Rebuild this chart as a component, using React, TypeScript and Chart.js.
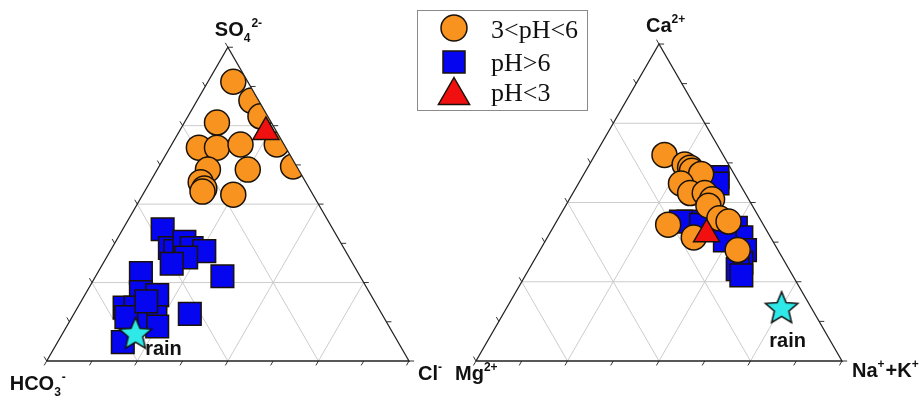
import React, { useEffect, useRef } from "react";
import { Chart, registerables } from "chart.js";

Chart.register(...registerables);

const W = 922;
const H = 396;

// ---------- Anion ternary (%): SO4 (apex), HCO3 (bottom-left), Cl (bottom-right)
const anionMid_SO4 = [89, 83, 78, 69, 62, 76, 68, 68, 69, 61, 61, 57, 55, 54, 53];
const anionMid_HCO3 = [4, 2, 2, 2, 1, 15, 24, 19, 12, 25, 14, 29, 29, 30, 22];
const anionMid_Cl = [7, 15, 20, 29, 37, 9, 8, 13, 19, 14, 25, 14, 16, 16, 25];

const anionHigh_SO4 = [42, 36, 35, 38, 36, 35, 33, 31, 27, 28, 22, 21, 17, 17, 14, 11, 15, 6, 13, 14, 19];
const anionHigh_HCO3 = [47, 48, 47, 43, 42, 39, 45, 50, 38, 60, 63, 59, 70, 67, 63, 64, 53, 76, 69, 71, 63];
const anionHigh_Cl = [11, 16, 18, 19, 22, 26, 22, 19, 35, 12, 15, 20, 13, 16, 23, 25, 32, 18, 18, 15, 18];

const anionLow_SO4 = [73];
const anionLow_HCO3 = [3];
const anionLow_Cl = [24];

const anionRain_SO4 = [9];
const anionRain_HCO3 = [71];
const anionRain_Cl = [20];

// ---------- Cation ternary (%): Ca (apex), Mg (bottom-left), Na+K (bottom-right)
const cationMid_Ca = [65, 62, 61, 60, 59, 56, 53, 53, 51, 49, 45, 44, 43, 39, 35];
const cationMid_Mg = [16, 12, 11, 11, 9, 16, 15, 11, 10, 12, 11, 9, 26, 21, 11];
const cationMid_NaK = [19, 26, 28, 29, 32, 28, 32, 36, 39, 39, 44, 47, 31, 40, 54];

const cationHigh_Ca = [58, 56, 44, 44, 42, 42, 39, 38, 35, 31, 29, 27, 43];
const cationHigh_Mg = [5, 6, 20, 22, 11, 8, 8, 13, 9, 12, 14, 14, 17];
const cationHigh_NaK = [37, 38, 36, 34, 47, 50, 53, 49, 56, 57, 57, 59, 40];

const cationLow_Ca = [40];
const cationLow_Mg = [17];
const cationLow_NaK = [43];

const cationRain_Ca = [17];
const cationRain_Mg = [8];
const cationRain_NaK = [75];

const gridFractions = [0.25, 0.5, 0.75];
const tickFractions = [0, 0.125, 0.25, 0.375, 0.5, 0.625, 0.75, 0.875, 1];

const legendLabels = ["3<pH<6", "pH>6", "pH<3"];
const rainLabel = "rain";

// ---------- geometry (layout, not data)
type Tri = { x0: number; side: number };
const LEFT_TRI: Tri = { x0: 0, side: 1 };
const RIGHT_TRI: Tri = { x0: 1.1849, side: 1.0102 };
const SQ3 = Math.sqrt(3) / 2;
const GAP = { x: null as any, y: null as any };

function tern(top: number, left: number, right: number, tri: Tri) {
  const s = top + left + right;
  const a = top / s;
  const c = right / s;
  return { x: tri.x0 + tri.side * (c + a / 2), y: tri.side * a * SQ3 };
}

function series(top: number[], left: number[], right: number[], tri: Tri) {
  return top.map((t, i) => tern(t, left[i], right[i], tri));
}

function gridData(tri: Tri) {
  const pts: any[] = [];
  for (const k of gridFractions) {
    pts.push(tern(k, 1 - k, 0, tri), tern(k, 0, 1 - k, tri), GAP);
    pts.push(tern(0, 1 - k, k, tri), tern(1 - k, 0, k, tri), GAP);
    pts.push(tern(0, k, 1 - k, tri), tern(1 - k, k, 0, tri), GAP);
  }
  return pts;
}

function frameData(tri: Tri) {
  return [tern(0, 1, 0, tri), tern(0, 0, 1, tri), tern(1, 0, 0, tri), tern(0, 1, 0, tri)];
}

function tickData(tri: Tri) {
  const L = 0.014 * tri.side;
  const pts: any[] = [];
  for (const t of tickFractions) {
    const b = tern(0, 1 - t, t, tri);
    pts.push(b, { x: b.x - 0.5 * L, y: b.y - SQ3 * L }, GAP);
    const r = tern(t, 0, 1 - t, tri);
    pts.push(r, { x: r.x + L, y: r.y }, GAP);
    const l = tern(t, 1 - t, 0, tri);
    pts.push(l, { x: l.x - 0.5 * L, y: l.y + SQ3 * L }, GAP);
  }
  return pts;
}

function makeStar(R: number) {
  const size = Math.ceil(2 * R + 4);
  const c = document.createElement("canvas");
  c.width = size;
  c.height = size;
  const g = c.getContext("2d")!;
  const cx = size / 2;
  const cy = size / 2 + 0.095 * R;
  g.beginPath();
  for (let i = 0; i < 10; i++) {
    const r = i % 2 === 0 ? R : R * 0.45;
    const ang = -Math.PI / 2 + (i * Math.PI) / 5;
    g.lineTo(cx + r * Math.cos(ang), cy + r * Math.sin(ang));
  }
  g.closePath();
  g.fillStyle = "#2fe8e8";
  g.fill();
  g.lineWidth = 1.5;
  g.strokeStyle = "#111";
  g.stroke();
  return c;
}

const ORANGE = "#f7931e";
const BLUE = "#0505f0";
const RED = "#f01010";
const EDGE = "#1a1208";

type Part = { t: string; k: "n" | "sup" | "sub" };
function chem(ctx: CanvasRenderingContext2D, x: number, y: number, parts: Part[]) {
  let cx = x;
  for (const p of parts) {
    const size = p.k === "n" ? 20 : 12;
    ctx.font = `bold ${size}px "Liberation Sans", Arial, sans-serif`;
    const dy = p.k === "sup" ? -9 : p.k === "sub" ? 6 : 0;
    ctx.fillText(p.t, cx, y + dy);
    cx += ctx.measureText(p.t).width + (p.k === "n" ? 0 : 1);
  }
}

export default function App() {
  const ref = useRef<HTMLCanvasElement>(null);

  useEffect(() => {
    const star = makeStar(17);

    const markerDs = (data: any[], style: any, radius: number, bg: string, tri: Tri) => ({
      data,
      pointStyle: style,
      pointRadius: radius,
      pointHoverRadius: radius,
      pointBackgroundColor: bg,
      pointBorderColor: EDGE,
      pointBorderWidth: 1.5,
      showLine: false,
      clipTri: tri,
    });
    const lineDs = (data: any[], color: string, width: number) => ({
      data,
      showLine: true,
      pointRadius: 0,
      borderColor: color,
      borderWidth: width,
      fill: false,
      tension: 0,
      spanGaps: false,
    });

    const datasets: any[] = [
      lineDs(frameData(LEFT_TRI), "#222", 1.3),
      lineDs(frameData(RIGHT_TRI), "#222", 1.3),
      lineDs(tickData(LEFT_TRI), "#333", 1),
      lineDs(tickData(RIGHT_TRI), "#333", 1),
      markerDs(series(cationRain_Ca, cationRain_Mg, cationRain_NaK, RIGHT_TRI), star, 17, "#2fe8e8", RIGHT_TRI),
      markerDs(series(anionRain_SO4, anionRain_HCO3, anionRain_Cl, LEFT_TRI), star, 17, "#2fe8e8", LEFT_TRI),
      markerDs(series(cationLow_Ca, cationLow_Mg, cationLow_NaK, RIGHT_TRI), "triangle", 15, RED, RIGHT_TRI),
      markerDs(series(cationMid_Ca, cationMid_Mg, cationMid_NaK, RIGHT_TRI), "circle", 12.5, ORANGE, RIGHT_TRI),
      markerDs(series(cationHigh_Ca, cationHigh_Mg, cationHigh_NaK, RIGHT_TRI), "rect", 16, BLUE, RIGHT_TRI),
      markerDs(series(anionLow_SO4, anionLow_HCO3, anionLow_Cl, LEFT_TRI), "triangle", 15, RED, LEFT_TRI),
      markerDs(series(anionMid_SO4, anionMid_HCO3, anionMid_Cl, LEFT_TRI), "circle", 12.5, ORANGE, LEFT_TRI),
      markerDs(series(anionHigh_SO4, anionHigh_HCO3, anionHigh_Cl, LEFT_TRI), "rect", 16, BLUE, LEFT_TRI),
      lineDs(gridData(LEFT_TRI), "#cccccc", 1),
      lineDs(gridData(RIGHT_TRI), "#cccccc", 1),
    ];
    datasets.forEach((d, i) => (d.order = i));

    const px = (chart: any, p: { x: number; y: number }) => [
      chart.scales.x.getPixelForValue(p.x),
      chart.scales.y.getPixelForValue(p.y),
    ];

    const clipPlugin = {
      id: "triClip",
      beforeDatasetDraw(chart: any, args: any) {
        const d = chart.data.datasets[args.index];
        if (!d.clipTri) return;
        const t = d.clipTri as Tri;
        const ctx = chart.ctx as CanvasRenderingContext2D;
        const pts = [tern(0, 1, 0, t), tern(0, 0, 1, t), tern(1, 0, 0, t)].map((q) => px(chart, q));
        ctx.save();
        ctx.beginPath();
        ctx.moveTo(pts[0][0], pts[0][1]);
        ctx.lineTo(pts[1][0], pts[1][1]);
        ctx.lineTo(pts[2][0], pts[2][1]);
        ctx.closePath();
        ctx.clip();
      },
      afterDatasetDraw(chart: any, args: any) {
        const d = chart.data.datasets[args.index];
        if (d.clipTri) chart.ctx.restore();
      },
    };

    const textPlugin = {
      id: "labels",
      afterDraw(chart: any) {
        const ctx = chart.ctx as CanvasRenderingContext2D;
        ctx.save();
        ctx.fillStyle = "#111";
        ctx.textBaseline = "alphabetic";
        ctx.textAlign = "left";
        const lA = px(chart, tern(1, 0, 0, LEFT_TRI));
        const lL = px(chart, tern(0, 1, 0, LEFT_TRI));
        const lR = px(chart, tern(0, 0, 1, LEFT_TRI));
        const rA = px(chart, tern(1, 0, 0, RIGHT_TRI));
        const rL = px(chart, tern(0, 1, 0, RIGHT_TRI));
        const rR = px(chart, tern(0, 0, 1, RIGHT_TRI));
        chem(ctx, lA[0] - 13, lA[1] - 11, [
          { t: "SO", k: "n" },
          { t: "4", k: "sub" },
          { t: "2-", k: "sup" },
        ]);
        chem(ctx, lL[0] - 37, lL[1] + 29, [
          { t: "HCO", k: "n" },
          { t: "3", k: "sub" },
          { t: "-", k: "sup" },
        ]);
        chem(ctx, lR[0] + 9, lR[1] + 19, [
          { t: "Cl", k: "n" },
          { t: "-", k: "sup" },
        ]);
        chem(ctx, rA[0] - 13, rA[1] - 12, [
          { t: "Ca", k: "n" },
          { t: "2+", k: "sup" },
        ]);
        chem(ctx, rL[0] - 21, rL[1] + 19, [
          { t: "Mg", k: "n" },
          { t: "2+", k: "sup" },
        ]);
        chem(ctx, rR[0] + 10, rR[1] + 16, [
          { t: "Na", k: "n" },
          { t: "+", k: "sup" },
          { t: "+K", k: "n" },
          { t: "+", k: "sup" },
        ]);

        ctx.font = 'bold 20px "Liberation Sans", Arial, sans-serif';
        ctx.textAlign = "center";
        const sL = px(chart, tern(anionRain_SO4[0], anionRain_HCO3[0], anionRain_Cl[0], LEFT_TRI));
        ctx.fillText(rainLabel, sL[0] + 28, sL[1] + 22);
        const sR = px(chart, tern(cationRain_Ca[0], cationRain_Mg[0], cationRain_NaK[0], RIGHT_TRI));
        ctx.fillText(rainLabel, sR[0] + 6, sR[1] + 40);

        const bx = 417, by = 10, bw = 170, bh = 100;
        ctx.fillStyle = "#fff";
        ctx.fillRect(bx, by, bw, bh);
        ctx.strokeStyle = "#8a8a8a";
        ctx.lineWidth = 1;
        ctx.strokeRect(bx + 0.5, by + 0.5, bw, bh);
        ctx.lineWidth = 1.5;
        ctx.strokeStyle = EDGE;
        const mx = 454;
        ctx.beginPath();
        ctx.arc(mx, 28, 13, 0, Math.PI * 2);
        ctx.fillStyle = ORANGE;
        ctx.fill();
        ctx.stroke();
        ctx.fillStyle = BLUE;
        ctx.fillRect(mx - 11, 51, 22, 22);
        ctx.strokeRect(mx - 11, 51, 22, 22);
        const tr = 18;
        ctx.beginPath();
        ctx.moveTo(mx, 95.5 - tr);
        ctx.lineTo(mx + tr * 0.866, 95.5 + tr / 2);
        ctx.lineTo(mx - tr * 0.866, 95.5 + tr / 2);
        ctx.closePath();
        ctx.fillStyle = RED;
        ctx.fill();
        ctx.stroke();
        ctx.fillStyle = "#111";
        ctx.textAlign = "left";
        ctx.font = '26px "Liberation Serif", "Times New Roman", serif';
        ctx.fillText(legendLabels[0], 491, 38);
        ctx.fillText(legendLabels[1], 491, 71);
        ctx.fillText(legendLabels[2], 491, 101);
        ctx.restore();
      },
    };

    const chart = new Chart(ref.current!, {
      type: "scatter",
      data: { datasets },
      options: {
        animation: false,
        responsive: false,
        devicePixelRatio: 1,
        events: [],
        layout: { padding: 0, autoPadding: false },
        plugins: { legend: { display: false }, tooltip: { enabled: false }, title: { display: false } },
        scales: {
          x: { type: "linear", display: false, min: -0.1289, max: 2.4159 },
          y: { type: "linear", display: false, min: -0.0966, max: 0.9964 },
        },
      },
      plugins: [clipPlugin, textPlugin],
    } as any);
    return () => chart.destroy();
  }, []);

  return (
    <div style={{ position: "absolute", left: 0, top: 0, width: W, height: H, background: "#fff" }}>
      <canvas ref={ref} width={W} height={H} style={{ display: "block", width: W, height: H }} />
    </div>
  );
}
